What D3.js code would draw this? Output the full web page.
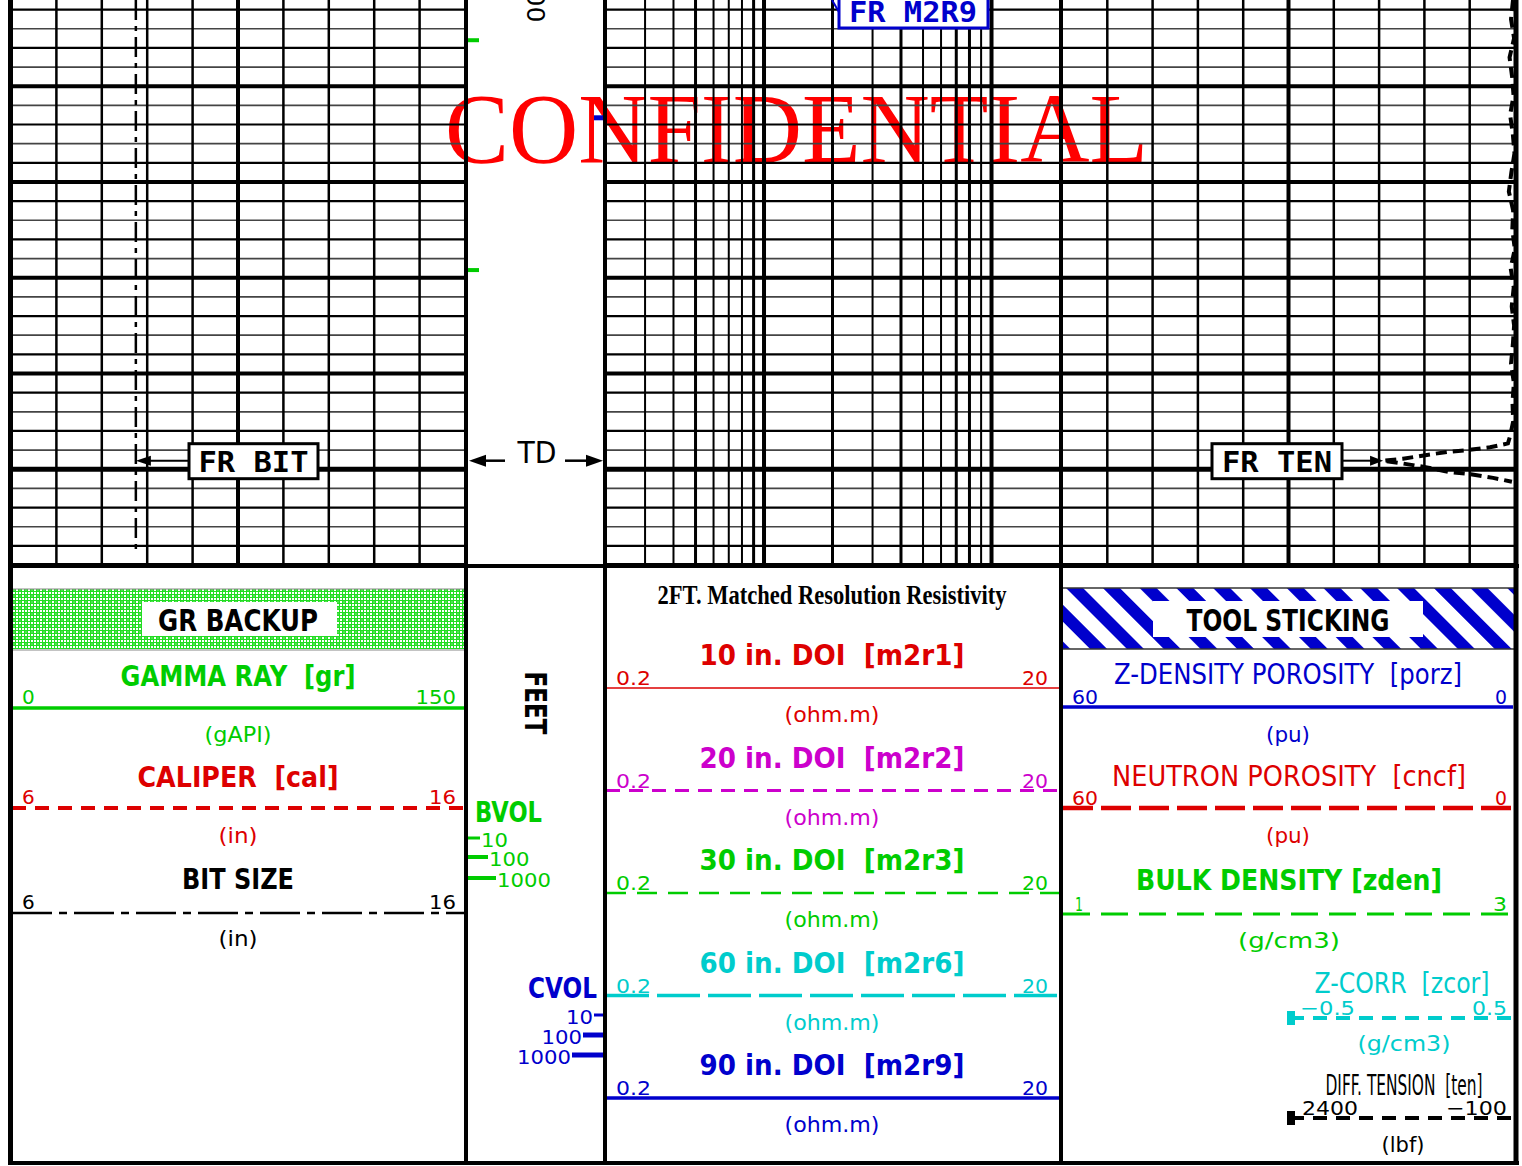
<!DOCTYPE html>
<html><head><meta charset="utf-8">
<script src="https://cdn.jsdelivr.net/npm/d3@7"></script>
<style>html,body{margin:0;padding:0;background:#fff;overflow:hidden} text{white-space:pre}</style>
</head><body>
<svg id="c" width="1522" height="1166" xmlns="http://www.w3.org/2000/svg"></svg>
<script>
// ---------------- DATA ----------------
const depthTop = 3601, depthBottom = 3660.1;
const depthLabelDepths = [3600];
const depthLabels = ["3600"];
const tdDepth = 3649;
const linDivisions = [0,1,2,3,4,5,6,7,8,9,10];
const resGridTicks = [0.2,0.3,0.4,0.5,0.6,0.7,0.8,0.9,1,2,3,4,5,6,7,8,9,10,20];
const bitDepths = [3601, 3658.7];
const bitValues = [8.75, 8.75];
const tenDepths = [3601,3603,3605,3607,3609,3611,3613,3615,3617,3619,3621,3623,3625,3627,3629,3631,3633,3635,3637,3639,3641,3643,3645,3646.6,3647.3,3647.7,3648.0,3648.2,3648.5,3648.9,3649.1,3649.35,3649.8,3650.3,3650.5,3650.9,3651.3];
const tenValues = [-89,-78,-95,-70,-84,-92,-73,-88,-97,-80,-66,-90,-85,-99,-76,-93,-82,-95,-88,-78,-94,-86,-90,-72,-61,38,165,275,386,518,628,535,386,259,148,21,-83];
const bvolDepths = [3605.2, 3629.2];
const cvolDepths = [3613.3];

const t1Names = ["GAMMA RAY  [gr]", "CALIPER  [cal]", "BIT SIZE"];
const t1Units = ["(gAPI)", "(in)", "(in)"];
const t1Mins = ["0", "6", "6"];
const t1Maxs = ["150", "16", "16"];
const t2Title = "2FT. Matched Resolution Resistivity";
const t2Names = ["10 in. DOI  [m2r1]", "20 in. DOI  [m2r2]", "30 in. DOI  [m2r3]", "60 in. DOI  [m2r6]", "90 in. DOI  [m2r9]"];
const t2Units = ["(ohm.m)", "(ohm.m)", "(ohm.m)", "(ohm.m)", "(ohm.m)"];
const t2Mins = ["0.2", "0.2", "0.2", "0.2", "0.2"];
const t2Maxs = ["20", "20", "20", "20", "20"];
const t3Names = ["Z-DENSITY POROSITY  [porz]", "NEUTRON POROSITY  [cncf]", "BULK DENSITY [zden]", "Z-CORR  [zcor]", "DIFF. TENSION  [ten]"];
const t3Units = ["(pu)", "(pu)", "(g/cm3)", "(g/cm3)", "(lbf)"];
const t3Mins = ["60", "60", "1", "\u22120.5", "2400"];
const t3Maxs = ["0", "0", "3", "0.5", "\u2212100"];
const volLabels = ["10", "100", "1000"];
const flagLabels = ["FR BIT", "FR TEN", "FR M2R9", "TD"];
const bannerLabels = ["GR BACKUP", "TOOL STICKING"];
const watermark = "CONFIDENTIAL";

// ---------------- LAYOUT / SCALES ----------------
const svg = d3.select("#c");
const GB = 566; // grid bottom
const T1 = [11, 465], T2 = [605, 1060], T3 = [1062, 1515];
const y = d3.scaleLinear().domain([depthTop, depthBottom]).range([0, GB]);
const x1 = d3.scaleLinear().domain([0, 10]).range(T1);
const xBit = d3.scaleLinear().domain([6, 16]).range(T1);
const x2 = d3.scaleLog().domain([0.2, 20]).range(T2);
const x3 = d3.scaleLinear().domain([0, 10]).range(T3);
const xTen = d3.scaleLinear().domain([2400, -100]).range(T3);

const SANS = "'DejaVu Sans', 'Liberation Sans', sans-serif";
const GREEN = "#00cc00", RED = "#dd0000", MAG = "#cc00cc", CYAN = "#00cccc", BLUE = "#0000cc";

function T(g, x, yy, s, o = {}) {
  const t = g.append("text").attr("x", x).attr("y", yy).text(s)
    .attr("font-family", o.ff || SANS).attr("font-size", o.fs || 20)
    .attr("font-weight", o.fw || "normal").attr("fill", o.c || "#000")
    .attr("text-anchor", o.a || "start");
  if (o.tl) t.attr("textLength", o.tl).attr("lengthAdjust", "spacingAndGlyphs");
  if (o.rot) t.attr("transform", `rotate(${o.rot},${x},${yy})`);
  return t;
}
function L(g, xa, ya, xb, yb, c, w, dash) {
  const l = g.append("line").attr("x1", xa).attr("y1", ya).attr("x2", xb).attr("y2", yb)
    .attr("stroke", c).attr("stroke-width", w);
  if (dash) l.attr("stroke-dasharray", dash);
  return l;
}

// defs
const defs = svg.append("defs");
const hp = defs.append("pattern").attr("id", "grHatch").attr("width", 6).attr("height", 6).attr("patternUnits", "userSpaceOnUse");
hp.append("rect").attr("width", 6).attr("height", 6).attr("fill", "#fff");
hp.append("path").attr("d", "M0 0.5H6M0 3.5H6M0.5 0V6M3.5 0V6").attr("stroke", "#22dd22").attr("stroke-width", 1);
hp.append("path").attr("d", "M1 1L3 3M3 1L1 3").attr("stroke", "#22dd22").attr("stroke-width", 0.8);
const sp = defs.append("pattern").attr("id", "stripes").attr("width", 26).attr("height", 26).attr("patternUnits", "userSpaceOnUse").attr("patternTransform", "rotate(-45)");
sp.append("rect").attr("width", 26).attr("height", 26).attr("fill", "#fff");
sp.append("rect").attr("width", 12).attr("height", 26).attr("fill", BLUE);
defs.append("clipPath").attr("id", "clip3").append("rect").attr("x", T3[0]).attr("y", 0).attr("width", T3[1] - T3[0] + 3).attr("height", GB);

svg.append("rect").attr("width", 1522).attr("height", 1166).attr("fill", "#fff");

// watermark (under grid)
T(svg, 445, 162, watermark, { ff: "'Liberation Serif', 'DejaVu Serif', serif", fs: 100, c: "#ff0000", tl: 703 });

// ---------------- GRID ----------------
const grid = svg.append("g");
const depthLines = d3.range(3602, 3661, 2);
function hLines(xr) {
  depthLines.forEach(d => {
    const major = d % 10 === 0;
    const w = d % 50 === 0 ? 5 : major ? 4 : (d % 4 === 2 ? 2.2 : 1.7);
    const c = major || d % 4 === 2 ? "#000" : "#444";
    L(grid, xr[0], y(d), xr[1], y(d), c, w);
  });
}
hLines(T1); hLines(T2); hLines(T3);
linDivisions.slice(1, -1).forEach(v => {
  const w = v === 5 ? 4 : 2.5;
  L(grid, x1(v), 0, x1(v), GB, "#000", w);
  L(grid, x3(v), 0, x3(v), GB, "#000", w);
});
resGridTicks.slice(1, -1).forEach(v => {
  const w = (v === 1 || v === 10) ? 4 : ([0.5, 0.9, 2, 4, 7, 8].includes(v) ? 3 : 2);
  L(grid, x2(v), 0, x2(v), GB, "#000", w);
});

// ---------------- CURVES ----------------
const curves = svg.append("g");
const bitLine = d3.line().x((d, i) => xBit(bitValues[i])).y(d => y(d));
curves.append("path").attr("d", bitLine(bitDepths)).attr("fill", "none")
  .attr("stroke", "#000").attr("stroke-width", 2.5).attr("stroke-dasharray", "20,6,5,6");
const tenLine = d3.line().x((d, i) => xTen(tenValues[i])).y(d => y(d));
curves.append("g").attr("clip-path", "url(#clip3)").append("path").attr("d", tenLine(tenDepths))
  .attr("fill", "none").attr("stroke", "#000").attr("stroke-width", 4).attr("stroke-dasharray", "11,6");
bvolDepths.forEach(d => L(curves, 467, y(d), 479, y(d), GREEN, 4));
cvolDepths.forEach(d => L(curves, 594, y(d), 605, y(d), BLUE, 5));

// depth label
depthLabelDepths.forEach((d, i) => T(svg, 527, y(d), depthLabels[i], { fs: 25, a: "middle", rot: 90, tl: 64 }));

// flags
const fl = svg.append("g");
const MONO = "'DejaVu Sans Mono', monospace";
function flag(x0, x1b, yc, label, col, tl) {
  fl.append("rect").attr("x", x0).attr("y", yc - 17).attr("width", x1b - x0).attr("height", 35)
    .attr("fill", "#fff").attr("stroke", col).attr("stroke-width", 3);
  T(fl, (x0 + x1b) / 2, yc + 11, label, { fs: 28, fw: "bold", a: "middle", c: col, tl: tl, ff: MONO });
}
const ytd = y(tdDepth) + 1;
// FR BIT
L(fl, 189, ytd, 148, ytd, "#000", 2);
fl.append("path").attr("d", `M${xBit(8.75)},${ytd}L${xBit(8.75) + 15},${ytd - 5}L${xBit(8.75) + 15},${ytd + 5}Z`).attr("fill", "#000");
flag(189, 318, ytd, flagLabels[0], "#000", 110);
// FR TEN
L(fl, 1342, ytd, 1372, ytd, "#000", 2);
fl.append("path").attr("d", `M${xTen(628)},${ytd}L${xTen(628) - 13},${ytd - 5}L${xTen(628) - 13},${ytd + 5}Z`).attr("fill", "#000");
flag(1212, 1342, ytd, flagLabels[1], "#000", 110);
// FR M2R9
L(fl, 839, 12, 832, 0, BLUE, 2);
fl.append("rect").attr("x", 839).attr("y", -8).attr("width", 149).attr("height", 36).attr("fill", "#fff").attr("stroke", BLUE).attr("stroke-width", 3);
T(fl, 913, 22, flagLabels[2], { fs: 28, fw: "bold", a: "middle", c: BLUE, tl: 128, ff: MONO });
// TD
T(fl, 537, ytd + 2, flagLabels[3], { fs: 30, a: "middle", tl: 39 });
L(fl, 505, ytd, 480, ytd, "#000", 2.5);
fl.append("path").attr("d", `M469,${ytd}L486,${ytd - 6}L486,${ytd + 6}Z`).attr("fill", "#000");
L(fl, 565, ytd, 590, ytd, "#000", 2.5);
fl.append("path").attr("d", `M603,${ytd}L586,${ytd - 6}L586,${ytd + 6}Z`).attr("fill", "#000");

// ---------------- HEADER ----------------
const hd = svg.append("g");
// Track 1 header
hd.append("rect").attr("x", 12).attr("y", 589).attr("width", 452).attr("height", 60).attr("fill", "url(#grHatch)");
L(hd, 12, 589, 464, 589, "#888", 1); L(hd, 12, 650, 464, 650, "#888", 1);
hd.append("rect").attr("x", 142).attr("y", 602).attr("width", 195).attr("height", 34).attr("fill", "#fff");
T(hd, 238, 631, bannerLabels[0], { fs: 30, fw: "bold", a: "middle", tl: 160 });
const t1Col = [GREEN, RED, "#000"];
const t1Fw = ["bold", "bold", "bold"];
const t1Tl = [235, 201, 112];
const t1Y = [686, 787, 889];
const t1LineY = [708, 808, 913];
const t1Dash = [null, "14,9", "40,7,8,7"];
const t1W = [3.5, 4, 2.5];
const t1UnitY = [742, 843, 946];
const t1UnitTl = [67, 39, 39];
t1Names.forEach((n, i) => {
  T(hd, 238, t1Y[i], n, { fs: 28, fw: t1Fw[i], a: "middle", c: t1Col[i], tl: t1Tl[i] });
  T(hd, 22, t1LineY[i] - 4, t1Mins[i], { fs: 20, c: t1Col[i] });
  T(hd, 456, t1LineY[i] - 4, t1Maxs[i], { fs: 20, a: "end", c: t1Col[i], tl: t1Maxs[i].length * 13.5 });
  L(hd, 12, t1LineY[i], 464, t1LineY[i], t1Col[i], t1W[i], t1Dash[i]);
  T(hd, 238, t1UnitY[i], t1Units[i], { fs: 22, a: "middle", c: t1Col[i], tl: t1UnitTl[i] });
});

// Depth track header
T(hd, 525, 703, "FEET", { fs: 30, fw: "bold", a: "middle", rot: 90, tl: 63 });
T(hd, 475, 822, "BVOL", { fs: 28, fw: "bold", c: GREEN, tl: 67 });
const bvTickEnd = [480, 488, 496], bvTickY = [838, 857, 878], bvTickW = [3, 4, 4];
volLabels.forEach((s, i) => {
  L(hd, 468, bvTickY[i], bvTickEnd[i], bvTickY[i], GREEN, bvTickW[i]);
  T(hd, bvTickEnd[i] + 1, bvTickY[i] + 9, s, { fs: 20, c: GREEN, tl: s.length * 13.5 });
});
T(hd, 597, 998, "CVOL", { fs: 28, fw: "bold", a: "end", c: BLUE, tl: 69 });
const cvTickStart = [594, 583, 572], cvTickY = [1015, 1035, 1055], cvTickW = [3, 5, 5];
volLabels.forEach((s, i) => {
  L(hd, cvTickStart[i], cvTickY[i], 605, cvTickY[i], BLUE, cvTickW[i]);
  T(hd, cvTickStart[i] - 1, cvTickY[i] + 9, s, { fs: 20, a: "end", c: BLUE, tl: s.length * 13.5 });
});

// Track 2 header
T(hd, 832, 604, t2Title, { ff: "'Liberation Serif', serif", fs: 28, fw: "bold", a: "middle", tl: 349 });
const t2Col = [RED, MAG, GREEN, CYAN, BLUE];
const t2Dash = [null, "14,9", "20,11", "43,8", null];
const t2W = [1.5, 3, 2.5, 3.5, 3.5];
t2Names.forEach((n, i) => {
  const o = i * 102.5;
  T(hd, 832, 665 + o, n, { fs: 28, fw: "bold", a: "middle", c: t2Col[i], tl: 265 });
  T(hd, 616, 685 + o, t2Mins[i], { fs: 20, c: t2Col[i], tl: 35 });
  T(hd, 1048, 685 + o, t2Maxs[i], { fs: 20, a: "end", c: t2Col[i], tl: 26 });
  L(hd, 606, 688 + o, 1059, 688 + o, t2Col[i], t2W[i], t2Dash[i]);
  T(hd, 832, 722 + o, t2Units[i], { fs: 22, a: "middle", c: t2Col[i], tl: 95 });
});

// Track 3 header
hd.append("rect").attr("x", 1063).attr("y", 588).attr("width", 451).attr("height", 61).attr("fill", "url(#stripes)");
L(hd, 1063, 588, 1514, 588, "#333", 1.5); L(hd, 1063, 649, 1514, 649, "#333", 1.5);
hd.append("rect").attr("x", 1153).attr("y", 601).attr("width", 270).attr("height", 36).attr("fill", "#fff");
T(hd, 1288, 631, bannerLabels[1], { fs: 30, fw: "bold", a: "middle", tl: 203 });
const t3Col = [BLUE, RED, GREEN, CYAN, "#000"];
const t3Fw = ["normal", "normal", "bold", "normal", "normal"];
const t3Cx = [1288, 1289, 1289, 1402, 1404];
const t3Tl = [348, 354, 306, 175, 157];
const t3Y = [684, 786, 890, 993, 1095];
const t3LineY = [707, 808, 914, 1018, 1118];
const t3LineX0 = [1063, 1063, 1063, 1290, 1290];
const t3MinX = [1072, 1072, 1075, 1300, 1302];
const t3MinTl = [26, 26, 8, 55, 56];
const t3MaxTl = [12, 12, 14, 35, 61];
const t3Dash = [null, "30,8", "27,11", "14,9", "14,9"];
const t3W = [3.5, 4.5, 3, 4, 4];
const t3UnitY = [742, 843, 948, 1051, 1152];
const t3UnitCx = [1288, 1288, 1289, 1404, 1403];
const t3UnitTl = [44, 44, 102, 93, 43];
t3Names.forEach((n, i) => {
  T(hd, t3Cx[i], t3Y[i], n, { fs: 28, fw: t3Fw[i], a: "middle", c: t3Col[i], tl: t3Tl[i] });
  T(hd, t3MinX[i], t3LineY[i] - 3, t3Mins[i], { fs: 20, c: t3Col[i], tl: t3MinTl[i] });
  T(hd, 1507, t3LineY[i] - 3, t3Maxs[i], { fs: 20, a: "end", c: t3Col[i], tl: t3MaxTl[i] });
  L(hd, t3LineX0[i], t3LineY[i], 1513, t3LineY[i], t3Col[i], t3W[i], t3Dash[i]);
  if (i >= 3) hd.append("rect").attr("x", 1287).attr("y", t3LineY[i] - 7).attr("width", 8).attr("height", 14).attr("fill", t3Col[i]);
  T(hd, t3UnitCx[i], t3UnitY[i], t3Units[i], { fs: 22, a: "middle", c: t3Col[i], tl: t3UnitTl[i] });
});

// ---------------- BORDERS ----------------
const bd = svg.append("g");
[[10.5, 5], [466, 4], [605, 4], [1061, 4], [1516, 5]].forEach(([x, w]) => L(bd, x, 0, x, 1165, "#000", w));
L(bd, 8, GB, 1519, GB, "#000", 4);
L(bd, 8, 1163, 1519, 1163, "#000", 4);
</script>
</body></html>
